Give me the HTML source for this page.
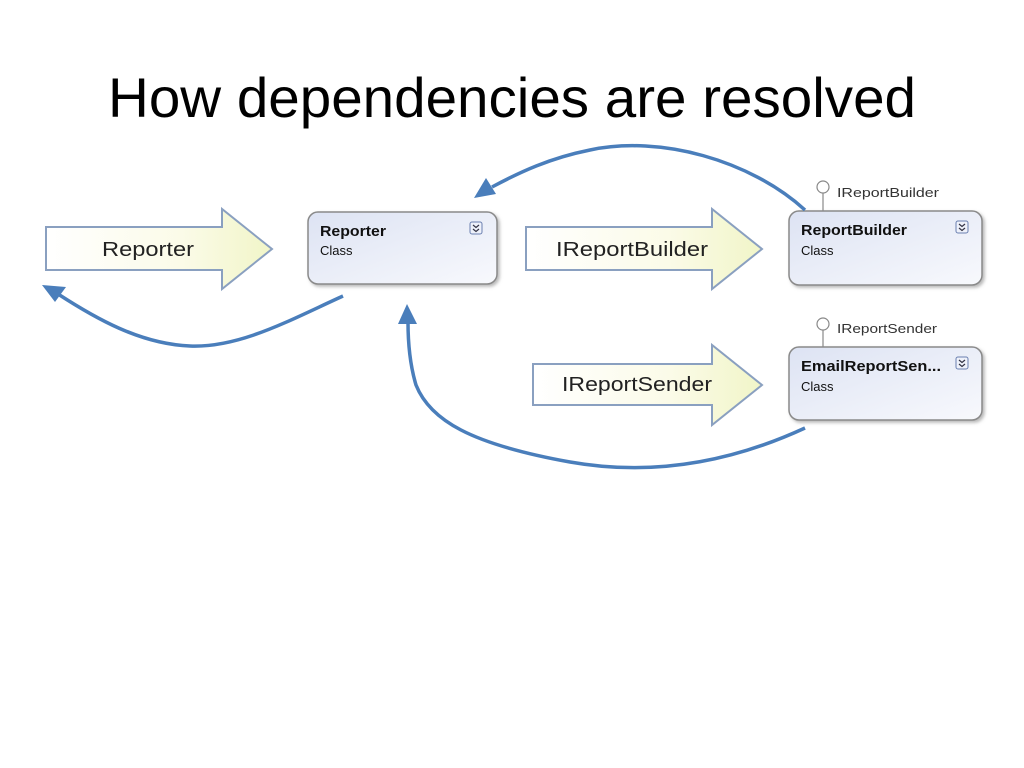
<!DOCTYPE html>
<html><head><meta charset="utf-8"><style>
html,body{margin:0;padding:0;background:#fff;width:1024px;height:768px;overflow:hidden}
</style></head><body>
<svg width="1024" height="768" viewBox="0 0 1024 768" xmlns="http://www.w3.org/2000/svg">
<defs>
<linearGradient id="ar" x1="0" y1="0" x2="1" y2="0">
<stop offset="0" stop-color="#ffffff"/><stop offset="0.6" stop-color="#fbfbe8"/><stop offset="1" stop-color="#f1f5c8"/>
</linearGradient>
<linearGradient id="bx" x1="0" y1="0" x2="1" y2="1">
<stop offset="0" stop-color="#dde3f3"/><stop offset="1" stop-color="#f8f9fd"/>
</linearGradient>
<filter id="sh" x="-10%" y="-10%" width="130%" height="130%"><feDropShadow dx="2" dy="2" stdDeviation="1.5" flood-color="#888" flood-opacity="0.6"/></filter>
</defs>
<text x="108" y="117" textLength="808" lengthAdjust="spacingAndGlyphs" font-family="Liberation Sans, sans-serif" font-size="56" fill="#000">How dependencies are resolved</text>

<g stroke="#8aa0c0" stroke-width="2" fill="url(#ar)">
<path d="M46,227 H222 V209 L272,249 L222,289 V270 H46 Z"/>
<path d="M526,227 H712 V209 L762,249 L712,289 V270 H526 Z"/>
<path d="M533,364 H712 V345 L762,385 L712,425 V405 H533 Z"/>
</g>
<g font-family="Liberation Sans, sans-serif" font-size="20" fill="#222">
<text x="102" y="256" textLength="92" lengthAdjust="spacingAndGlyphs">Reporter</text>
<text x="556" y="256" textLength="152" lengthAdjust="spacingAndGlyphs">IReportBuilder</text>
<text x="562" y="391" textLength="150" lengthAdjust="spacingAndGlyphs">IReportSender</text>
</g>

<g filter="url(#sh)" stroke="#8a8a8a" stroke-width="1.5" fill="url(#bx)">
<rect x="308" y="212" width="189" height="72" rx="10"/>
<rect x="789" y="211" width="193" height="74" rx="10"/>
<rect x="789" y="347" width="193" height="73" rx="10"/>
</g>
<g font-family="Liberation Sans, sans-serif" fill="#111">
<text x="320" y="236" font-size="15" font-weight="bold" textLength="66" lengthAdjust="spacingAndGlyphs">Reporter</text>
<text x="320" y="255" font-size="13">Class</text>
<text x="801" y="235" font-size="15" font-weight="bold" textLength="106" lengthAdjust="spacingAndGlyphs">ReportBuilder</text>
<text x="801" y="255" font-size="13">Class</text>
<text x="801" y="371" font-size="15" font-weight="bold" textLength="140" lengthAdjust="spacingAndGlyphs">EmailReportSen...</text>
<text x="801" y="391" font-size="13">Class</text>
</g>
<g stroke="#6a7fb0" stroke-width="1" fill="#eef1fa">
<rect x="470" y="222" width="12" height="12" rx="2"/>
<rect x="956" y="221" width="12" height="12" rx="2"/>
<rect x="956" y="357" width="12" height="12" rx="2"/>
</g>
<g stroke="#334" stroke-width="1.2" fill="none">
<path d="M473,225 l3,2.5 l3,-2.5 M473,229 l3,2.5 l3,-2.5"/>
<path d="M959,224 l3,2.5 l3,-2.5 M959,228 l3,2.5 l3,-2.5"/>
<path d="M959,360 l3,2.5 l3,-2.5 M959,364 l3,2.5 l3,-2.5"/>
</g>
<g stroke="#888" stroke-width="1.2" fill="#fff">
<line x1="823" y1="193" x2="823" y2="211"/>
<circle cx="823" cy="187" r="6"/>
<line x1="823" y1="330" x2="823" y2="347"/>
<circle cx="823" cy="324" r="6"/>
</g>
<g font-family="Liberation Sans, sans-serif" font-size="13" fill="#333">
<text x="837" y="197" textLength="102" lengthAdjust="spacingAndGlyphs">IReportBuilder</text>
<text x="837" y="333" textLength="100" lengthAdjust="spacingAndGlyphs">IReportSender</text>
</g>

<g stroke="#4a7ebb" stroke-width="3.5" fill="none">
<path d="M805,210 C750,160 660,135 590,150 C550,158 520,172 492,187"/>
<path d="M343,296 C290,320 240,348 190,346 C140,344 95,318 58,294"/>
<path d="M805,428 C740,458 660,478 570,462 C470,444 430,420 416,385 C410,365 408,345 408,322"/>
</g>
<g fill="#4a7ebb">
<polygon points="474,198 486,178 496,194"/>
<polygon points="42,285 66,287 55,302"/>
<polygon points="407,304 398,324 417,324"/>
</g>
</svg>
</body></html>
